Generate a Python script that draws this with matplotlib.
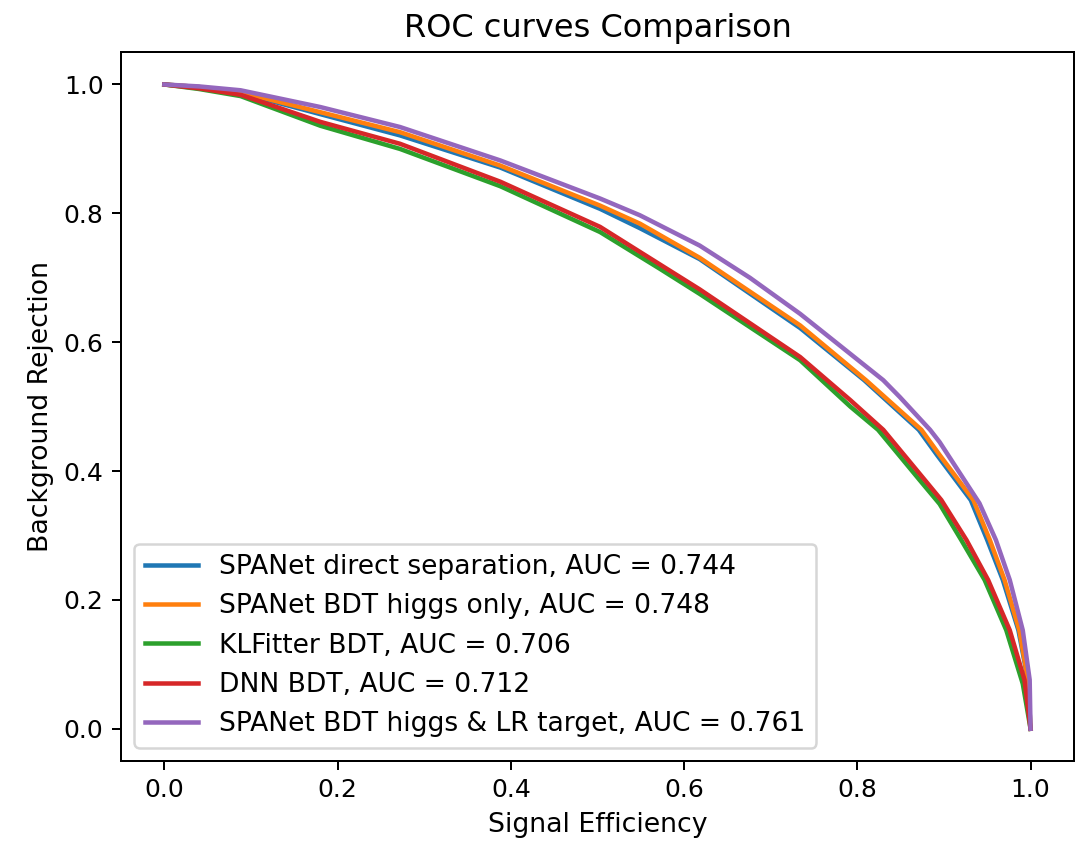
import matplotlib
matplotlib.use("Agg")
import matplotlib.pyplot as plt
import numpy as np

# values (signal efficiency, background rejection)
labels = [
    "SPANet direct separation, AUC = 0.744",
    "SPANet BDT higgs only, AUC = 0.748",
    "KLFitter BDT, AUC = 0.706",
    "DNN BDT, AUC = 0.712",
    "SPANet BDT higgs & LR target, AUC = 0.761",
]

spanet_direct_x = [0.0, 0.04, 0.088, 0.180, 0.272, 0.388, 0.503, 0.549, 0.618, 0.734, 0.808, 0.871, 0.892, 0.931, 0.950, 0.968, 0.986, 0.997, 1.0]
spanet_direct_y = [1.0, 0.996, 0.987, 0.954, 0.921, 0.871, 0.807, 0.777, 0.729, 0.622, 0.541, 0.464, 0.425, 0.355, 0.293, 0.231, 0.153, 0.076, 0.0]

spanet_higgs_x = [0.0, 0.04, 0.088, 0.180, 0.272, 0.388, 0.503, 0.549, 0.618, 0.734, 0.810, 0.874, 0.895, 0.934, 0.953, 0.970, 0.987, 0.997, 1.0]
spanet_higgs_y = [1.0, 0.996, 0.988, 0.957, 0.926, 0.874, 0.812, 0.784, 0.731, 0.626, 0.541, 0.464, 0.425, 0.355, 0.293, 0.231, 0.153, 0.076, 0.0]

klfitter_x = [0.0, 0.04, 0.088, 0.180, 0.272, 0.388, 0.503, 0.572, 0.618, 0.734, 0.792, 0.824, 0.872, 0.895, 0.920, 0.947, 0.972, 0.991, 1.0]
klfitter_y = [1.0, 0.993, 0.982, 0.936, 0.900, 0.842, 0.771, 0.714, 0.675, 0.572, 0.500, 0.464, 0.386, 0.349, 0.293, 0.231, 0.153, 0.070, 0.0]

dnn_x = [0.0, 0.04, 0.088, 0.180, 0.272, 0.388, 0.503, 0.580, 0.618, 0.734, 0.792, 0.830, 0.878, 0.897, 0.926, 0.951, 0.976, 0.993, 1.0]
dnn_y = [1.0, 0.994, 0.984, 0.942, 0.908, 0.849, 0.779, 0.714, 0.682, 0.577, 0.510, 0.464, 0.386, 0.355, 0.293, 0.231, 0.153, 0.076, 0.0]

spanet_lr_x = [0.0, 0.04, 0.088, 0.180, 0.272, 0.388, 0.503, 0.549, 0.618, 0.676, 0.734, 0.830, 0.849, 0.884, 0.895, 0.941, 0.960, 0.976, 0.991, 0.999, 1.0]
spanet_lr_y = [1.0, 0.997, 0.991, 0.965, 0.934, 0.882, 0.823, 0.797, 0.750, 0.700, 0.644, 0.541, 0.515, 0.464, 0.445, 0.350, 0.293, 0.231, 0.153, 0.076, 0.0]

curves = [
    (spanet_direct_x, spanet_direct_y),
    (spanet_higgs_x, spanet_higgs_y),
    (klfitter_x, klfitter_y),
    (dnn_x, dnn_y),
    (spanet_lr_x, spanet_lr_y),
]

dpi = 180
fig, ax = plt.subplots(figsize=(1076 / dpi, 843 / dpi), dpi=dpi)
fig.subplots_adjust(left=0.1125, right=0.998, bottom=0.0973, top=0.938)

for (xs, ys), lab in zip(curves, labels):
    ax.plot(np.array(xs), np.array(ys), label=lab, lw=1.8)

ax.set_xlabel("Signal Efficiency", fontsize=10.7)
ax.set_ylabel("Background Rejection", fontsize=10.7)
ax.set_title("ROC curves Comparison", fontsize=12.8)
ax.legend(loc="lower left", fontsize=10.6)

fig.savefig("out.png", dpi=dpi)
